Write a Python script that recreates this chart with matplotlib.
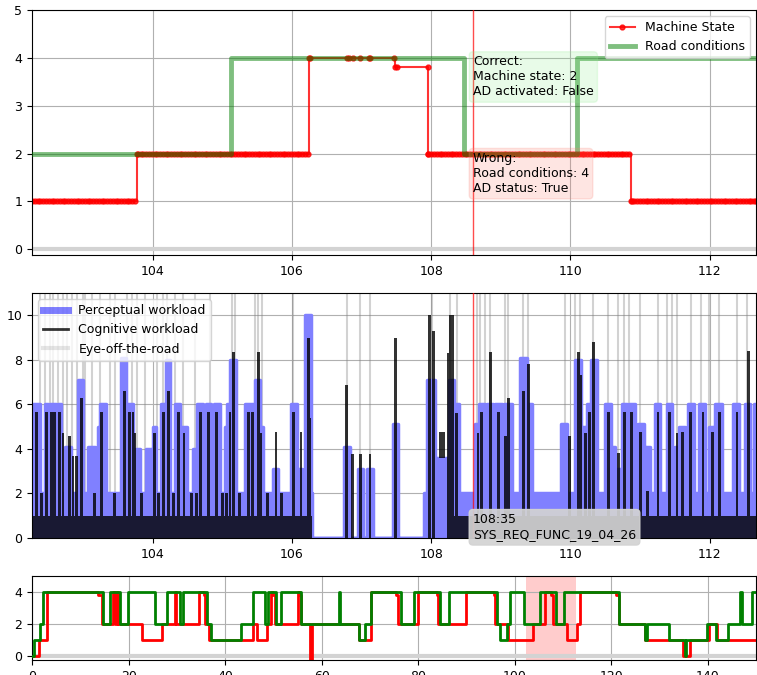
import numpy as np
import matplotlib
matplotlib.use("Agg")
import matplotlib.pyplot as plt
from matplotlib.lines import Line2D

plt.rcParams['font.family'] = 'DejaVu Sans'
plt.rcParams['font.size'] = 9

# ---------------- data ----------------
machine_t = [0, 1.5, 3.0, 13.7, 14.4, 16.8, 17.2, 17.5, 17.8, 22.7, 27.0, 29.6, 29.9, 34.6, 35.6,
             35.9, 36.7, 45.8, 46.5, 48.6, 49.6, 50.0, 50.3, 55.1, 55.5, 55.8, 57.65, 57.9, 67.66, 70.3,
             75.4, 75.8, 79.9, 83.8, 84.1, 89.9, 95.6, 95.9, 98.55, 103.78, 106.25, 107.48, 107.95,
             110.87, 112.8, 113.5, 121.0, 121.5, 127.0, 134.8, 136.3, 140.3, 141.8]
machine_v = [0, 1, 4, 3.8, 2, 4, 2, 4, 2, 1, 2, 4, 2, 4, 3.8,
             2, 1, 2, 1, 2, 4, 3.8, 2, 4, 3.8, 2, -1, 2, 1, 4,
             3.8, 2, 4, 3.8, 2, 4, 3.8, 2, 1, 2, 4, 3.8, 2,
             1, 2, 4, 3.8, 2, 1, 0, 1, 2, 1]

road_t = [0, 0.48, 1.65, 2.2, 14.76, 16.14, 18.2, 19.8, 25.45, 27.86, 30.62, 31.31, 36.28, 36.97,
          43.38, 45.8, 48.35, 48.9, 50.48, 51.65, 55.8, 63.6, 63.8, 67.66, 68.9, 70.3, 76.48, 79.03,
          84.41, 86.27, 96.34, 96.96, 98.34, 98.9, 101.8, 105.13, 108.47, 110.1, 121.5, 126.97,
          127.3, 132.0, 135.2, 135.5, 139.9, 141.6, 144.1, 146.6, 147.0, 149.2]
road_v = [0, 1, 2, 4, 2, 4, 2, 4, 2, 4, 2, 4, 2, 1,
          2, 4, 2, 4, 2, 4, 2, 4, 2, 1, 2, 4, 2, 4,
          2, 4, 2, 1, 2, 4, 2, 4, 2, 4, 2, 1,
          2, 1, 0, 1, 2, 1, 2, 4, 2, 4]

t_end = 150
window = (102.265, 112.67)
event_time = 108.6
event_label = "108:35\nSYS_REQ_FUNC_19_04_26"
correct_text = "Correct:\nMachine state: 2\nAD activated: False"
wrong_text = "Wrong:\nRoad conditions: 4\nAD status: True"

# sampling of machine state (dense periods + isolated samples)
dense_periods = [(102.265, 106.29), (107.96, 112.67)]
sample_period = 0.04
sparse_samples = [106.787, 106.825, 106.883, 106.979, 107.113, 107.122, 107.47, 107.506, 107.947]

# perceptual workload: base level + spikes
perc_base_t = [102.0, 106.29, 107.89, 108.06, 108.32]
perc_base_v = [2, 0, 2, 3.6, 2]
perc_start = [102.28, 102.446, 102.518, 102.638, 102.734, 102.926, 103.070, 103.214, 103.238, 103.550,
              103.645, 103.765, 103.909, 104.005, 104.125, 104.197, 104.320, 104.413, 104.58, 104.63,
              104.77, 104.88, 105.04, 105.06, 105.11, 105.32, 105.47, 105.54, 105.73, 105.99,
              106.09, 106.19, 106.75, 106.955, 107.074, 107.449, 107.938, 108.250, 108.321, 108.633,
              108.681, 108.801, 108.921, 109.041, 109.280, 109.376, 109.870, 110.072, 110.177, 110.239,
              110.302, 110.503, 110.590, 110.667, 110.739, 110.844, 110.969, 111.065, 111.209, 111.386,
              111.506, 111.554, 111.689, 111.851, 111.986, 112.082, 112.331, 112.504, 112.633]
perc_end = [102.375, 102.494, 102.614, 102.686, 102.830, 102.998, 103.166, 103.240, 103.334, 103.621,
            103.717, 103.813, 103.981, 104.053, 104.173, 104.245, 104.389, 104.485, 104.63, 104.72,
            104.84, 104.96, 105.11, 105.11, 105.20, 105.47, 105.54, 105.59, 105.80, 106.07,
            106.14, 106.27, 106.83, 107.017, 107.161, 107.530, 108.058, 108.321, 108.393, 108.681,
            108.767, 108.882, 109.017, 109.160, 109.376, 109.448, 109.952, 110.158, 110.225, 110.302,
            110.383, 110.590, 110.647, 110.715, 110.811, 110.931, 111.051, 111.147, 111.290, 111.458,
            111.554, 111.650, 111.770, 111.938, 112.072, 112.178, 112.417, 112.585, 112.691]
perc_value = [6, 6, 6, 6, 4.1, 7.1, 4.1, 5, 6, 8.1,
              6, 4, 4, 5, 6, 8, 6, 5, 4, 6,
              6, 6, 5, 6, 8, 6, 7.1, 5, 3.1, 6,
              3.1, 10, 4.1, 3.1, 3.1, 5.1, 7.1, 7.1, 6, 5.1,
              6, 6, 6, 6, 8.1, 6, 5.1, 8, 5, 6,
              8, 6, 4.1, 3.1, 6, 6, 5.1, 4.1, 6, 6,
              4.1, 5, 6, 6, 5, 6, 6, 6, 6]

# cognitive workload: base level + spikes
cog_base_t = [102.0, 106.29, 108.27]
cog_base_v = [1, 0, 1]
cog_spike_t = [102.327, 102.40, 102.470, 102.542, 102.590, 102.662, 102.71, 102.806, 102.854, 102.902,
               102.974, 103.166, 103.262, 103.45, 103.597, 103.669, 103.717, 103.741, 103.84, 104.029,
               104.08, 104.149, 104.221, 104.30, 104.37, 104.45, 104.56, 104.63, 104.68, 104.797,
               104.917, 105.0, 105.06, 105.108, 105.156, 105.25, 105.372, 105.43, 105.516, 105.55,
               105.65, 105.77, 105.85, 106.02, 106.13, 106.235, 106.259,
               106.787, 106.873, 106.988, 107.122, 107.482,
               107.98, 108.03, 108.25, 108.28, 108.31, 108.369,
               108.671, 108.719, 108.849, 108.969, 109.065, 109.112, 109.328, 109.400, 109.985, 110.120,
               110.144, 110.216, 110.273, 110.335, 110.551, 110.691, 110.777, 110.883, 111.003, 111.113,
               111.257, 111.420, 111.530, 111.612, 111.727, 111.904, 112.043, 112.139, 112.393, 112.561,
               112.681]
cog_spike_v = [5.66, 2, 5.66, 5.66, 5.66, 5.66, 4.7, 4.6, 3.7, 3.7,
               6.3, 2, 5.66, 2, 6.6, 5.66, 5.66, 4.7, 2, 4.7,
               2, 5.66, 6.6, 2, 5.66, 4.7, 2, 2, 5.66, 5.66,
               5.66, 2, 2, 5.66, 8.35, 2, 5.66, 5.66, 8.35, 4.7,
               2, 4.75, 2, 5.66, 4.75, 9.0, 5.4,
               6.85, 3.75, 3.75, 3.75, 9.0,
               10, 9.3, 8.3, 10, 10, 5.6,
               4.7, 5.67, 8.35, 5.67, 4.6, 6.3, 6.6, 7.8, 4.6, 8.35,
               7.3, 4.7, 5.67, 8.8, 5.67, 3.8, 5.67, 5.67, 4.77, 2.1,
               5.67, 5.67, 4.7, 4.77, 5.67, 5.67, 4.77, 5.67, 5.67, 8.4,
               5.67]
cog_spike_width = 0.04
cog_block = (108.106, 108.201, 3.6, 4.75)

eye_off_t = [102.374, 102.446, 102.518, 102.562, 102.633, 102.705, 102.763, 102.835, 102.907, 102.993,
             103.022, 103.123, 103.238, 103.382, 103.454, 103.626, 103.698, 103.770, 103.885, 104.057,
             104.144, 104.201, 104.317, 104.432, 104.604, 104.820, 105.137, 105.180, 105.468, 105.511,
             105.568, 106.014, 106.791, 106.978, 107.122, 108.014, 108.273, 108.374, 108.662, 108.705,
             108.777, 108.849, 109.065, 109.108, 109.324, 109.396, 109.928, 110.072, 110.144, 110.331,
             110.547, 110.691, 110.763, 110.835, 111.007, 111.252, 111.381, 111.453, 111.525, 111.726,
             111.871, 111.986, 112.129, 112.388, 112.532]


# ---------------- helpers ----------------
def step_value(ts, vs, t):
    ts = np.asarray(ts, float)
    vs = np.asarray(vs, float)
    idx = np.searchsorted(ts, np.asarray(t, float), side='right') - 1
    idx = np.clip(idx, 0, len(vs) - 1)
    return vs[idx]


def profile(base_t, base_v, starts, ends, values, lo, hi):
    edges = [lo, hi] + list(base_t) + list(starts) + list(ends)
    edges = np.unique(np.clip(np.asarray(edges, float), lo, hi))
    mids = (edges[:-1] + edges[1:]) / 2
    vals = step_value(base_t, base_v, mids).copy()
    for a, b, v in zip(starts, ends, values):
        m = (mids >= a) & (mids < b)
        vals[m] = np.maximum(vals[m], v)
    return edges, np.append(vals, vals[-1])


# ---------------- figure ----------------
fig = plt.figure(figsize=(7.57, 6.75), dpi=100)
ax1 = fig.add_axes([0.0423, 0.6222, 0.9567, 0.3630])
ax2 = fig.add_axes([0.0423, 0.2030, 0.9567, 0.3630])
ax3 = fig.add_axes([0.0423, 0.0222, 0.9567, 0.1245])

# --- top panel ---
samples = [np.arange(a, b, sample_period) for a, b in dense_periods]
chg = [t for t in machine_t if window[0] < t < window[1]]
t_s = np.unique(np.concatenate(samples + [np.array(sparse_samples), np.array(chg), np.array(window)]))
v_s = step_value(machine_t, machine_v, t_s)

ax1.axhline(0, color='lightgray', lw=3, zorder=1.8)
ax1.plot(t_s, v_s, color='red', marker='.', ms=7, lw=1.5, alpha=0.8,
         drawstyle='steps-post', label='Machine State', zorder=2)
rt = np.array([window[0]] + [t for t in road_t if window[0] < t < window[1]] + [window[1]])
ax1.plot(rt, step_value(road_t, road_v, rt), color='green', lw=3.5, alpha=0.5,
         drawstyle='steps-post', label='Road conditions', zorder=3)
ax1.axvline(event_time, color='red', alpha=0.7, lw=1, zorder=4)
ax1.text(event_time, 3.6, correct_text, ha='left', va='center', zorder=5,
         bbox=dict(boxstyle='round', facecolor='lightgreen', edgecolor='lightgreen', alpha=0.2))
ax1.text(event_time, 1.58, wrong_text, ha='left', va='center', zorder=5,
         bbox=dict(boxstyle='round', facecolor='salmon', edgecolor='salmon', alpha=0.2))
ax1.set_xlim(window)
ax1.set_ylim(-0.12, 5)
ax1.set_yticks([0, 1, 2, 3, 4, 5])
ax1.set_xticks([104, 106, 108, 110, 112])
ax1.grid(True)
ax1.legend(loc='upper right')

# --- middle panel ---
pe, pv = profile(perc_base_t, perc_base_v, perc_start, perc_end, perc_value, window[0], window[1])
cs = [t - cog_spike_width / 2 for t in cog_spike_t]
ce_ = [t + cog_spike_width / 2 for t in cog_spike_t]
ce, cv = profile(cog_base_t, cog_base_v, cs, ce_, cog_spike_v, window[0], window[1])

blue_half = '#8080ff'   # blue at 50 % over white
ax2.vlines(eye_off_t, 0, 12, colors='gray', alpha=0.35, lw=1.5, zorder=1.6)
ax2.fill_between(pe, 0, pv, step='post', facecolor=blue_half, edgecolor=blue_half,
                 lw=2.5, joinstyle='round', zorder=2)
ax2.fill_between(ce, 0, cv, step='post', color='black', alpha=0.8, lw=0, zorder=3)
ax2.fill_between([cog_block[0], cog_block[1]], cog_block[2], cog_block[3],
                 color='black', alpha=0.8, lw=0, zorder=3)
ax2.axvline(event_time, color='red', alpha=0.7, lw=1, zorder=4)
ax2.text(event_time, 0.48, event_label, ha='left', va='center', zorder=6, clip_on=False,
         bbox=dict(boxstyle='round', facecolor='lightgray', edgecolor='lightgray', alpha=0.92))
ax2.set_xlim(window)
ax2.set_ylim(0, 11)
ax2.set_yticks([0, 2, 4, 6, 8, 10])
ax2.set_xticks([104, 106, 108, 110, 112])
ax2.grid(True)
handles = [Line2D([], [], color='blue', alpha=0.5, lw=5),
           Line2D([], [], color='black', alpha=0.8, lw=2),
           Line2D([], [], color='gray', alpha=0.2, lw=3)]
ax2.legend(handles, ['Perceptual workload', 'Cognitive workload', 'Eye-off-the-road'],
           loc='upper left')

# --- bottom panel ---
mt = np.append(machine_t, t_end)
mv = np.append(machine_v, machine_v[-1])
rt_all = np.append(road_t, t_end)
rv_all = np.append(road_v, road_v[-1])
ax3.axvspan(window[0], window[1], color='red', alpha=0.2, lw=0)
ax3.axhline(0, color='lightgray', lw=3, zorder=1.8)
ax3.plot(mt, mv, color='red', lw=2, drawstyle='steps-post', zorder=2)
ax3.plot(rt_all, rv_all, color='green', lw=2, drawstyle='steps-post', zorder=3)
ax3.set_xlim(0, t_end)
ax3.set_ylim(-0.25, 5)
ax3.set_yticks([0, 2, 4])
ax3.set_xticks([0, 20, 40, 60, 80, 100, 120, 140])
ax3.grid(True)

fig.savefig('out.png', dpi=100)
